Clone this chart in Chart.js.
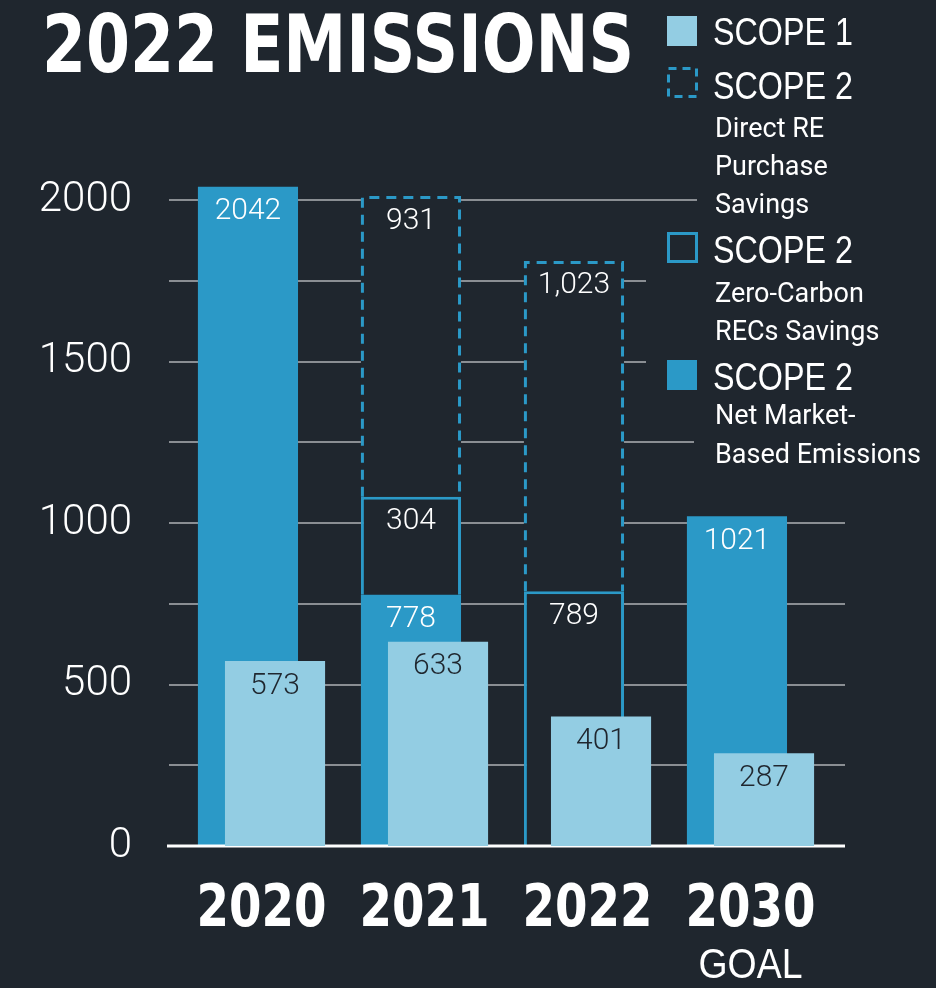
<!DOCTYPE html>
<html>
<head>
<meta charset="utf-8">
<title>2022 Emissions</title>
<script src="https://cdn.jsdelivr.net/npm/chart.js@4.4.1/dist/chart.umd.min.js"></script>
<style>
  html, body { margin: 0; padding: 0; background: #1f262e; }
  canvas { display: block; }
</style>
</head>
<body>
<canvas id="emissionsChart" width="936" height="988"></canvas>
<script>
// chart data
const years = ["2020", "2021", "2022", "2030"];
const yearNotes = ["", "", "", "GOAL"];
const scope1 = [573, 633, 401, 287];
const scope2Net = [2042, 778, null, 1021];
const scope2Recs = [null, 304, 789, null];
const scope2Direct = [null, 931, 1023, null];
const yTickLabels = [0, 500, 1000, 1500, 2000];
const legendHeads = ["SCOPE 1", "SCOPE 2", "SCOPE 2", "SCOPE 2"];
const legendNotes = [[], ["Direct RE", "Purchase", "Savings"], ["Zero-Carbon", "RECs Savings"], ["Net Market-", "Based Emissions"]];

const BG = "#1f262e";
const DARK = "#2b99c7";
const LIGHT = "#93cde3";
const GRID = "#8a8e93";
const HEAVY = '"DejaVu Sans", "Liberation Sans", sans-serif';
const PLAIN = '"Liberation Sans", Arial, sans-serif';
const THIN = 'Roboto, "Liberation Sans", sans-serif';

// draws text squeezed horizontally, the original uses a condensed face
function squeezed(ctx, text, x, y, sx) {
  ctx.save();
  ctx.translate(x, y);
  ctx.scale(sx, 1);
  ctx.fillText(text, 0, 0);
  ctx.restore();
}

const S1 = 3; // index of the scope 1 dataset, drawn on top

const extras = {
  id: "extras",
  beforeDatasetsDraw(chart) {
    const ctx = chart.ctx, y = chart.scales.y;
    ctx.save();
    ctx.strokeStyle = GRID;
    ctx.lineWidth = 2;
    y.ticks.forEach(t => {
      if (t.value === 0) return;
      const py = Math.round(y.getPixelForValue(t.value));
      ctx.beginPath();
      ctx.moveTo(169, py);
      ctx.lineTo(845, py);
      ctx.stroke();
    });
    ctx.restore();
  },
  beforeDatasetDraw(chart, args) {
    if (args.index === S1 && !chart.$late) return false;
  },
  afterDatasetsDraw(chart) {
    const ctx = chart.ctx;
    // dashed outline boxes for direct RE savings
    const meta = chart.getDatasetMeta(2);
    ctx.save();
    ctx.strokeStyle = DARK;
    ctx.lineWidth = 3;
    ctx.setLineDash([10, 7]);
    meta.data.forEach((el, i) => {
      if (scope2Direct[i] == null) return;
      const p = el.getProps(["x", "y", "base", "width"], true);
      const l = p.x - p.width / 2 + 1.5, r = p.x + p.width / 2 - 1.5, t = p.y + 1.5;
      ctx.beginPath();
      ctx.moveTo(l, p.base);
      ctx.lineTo(l, t);
      ctx.lineTo(r, t);
      ctx.lineTo(r, p.base);
      ctx.stroke();
    });
    ctx.restore();

    // zero line
    const y0 = Math.round(chart.scales.y.getPixelForValue(0));
    ctx.save();
    ctx.strokeStyle = "#ffffff";
    ctx.lineWidth = 3;
    ctx.beginPath();
    ctx.moveTo(167, y0);
    ctx.lineTo(845, y0);
    ctx.stroke();
    ctx.restore();

    chart.$late = true;
    chart.getDatasetMeta(S1).controller.draw();
    chart.$late = false;
  },
  afterDraw(chart) {
    const ctx = chart.ctx;
    ctx.save();

    // value labels
    ctx.font = "300 30px " + THIN;
    ctx.textAlign = "center";
    ctx.textBaseline = "middle";
    chart.data.datasets.forEach((ds, di) => {
      chart.getDatasetMeta(di).data.forEach((el, i) => {
        const v = ds.data[i];
        if (v == null) return;
        ctx.fillStyle = di === S1 ? BG : "#ffffff";
        const txt = di === 2 ? v.toLocaleString("en-US") : String(v);
        ctx.fillText(txt, el.x, el.y + 25);
      });
    });

    // category labels
    const x = chart.scales.x;
    ctx.textBaseline = "alphabetic";
    ctx.fillStyle = "#ffffff";
    years.forEach((yr, i) => {
      const cx = x.getPixelForValue(i);
      ctx.font = "bold 59px " + HEAVY;
      ctx.fillText(yr, cx, 926, 130);
      if (yearNotes[i]) {
        ctx.font = "42px " + PLAIN;
        ctx.fillText(yearNotes[i], cx, 978, 104);
      }
    });

    // title
    ctx.textAlign = "left";
    ctx.font = "bold 80px " + HEAVY;
    ctx.fillText("2022 EMISSIONS", 42, 72, 592);

    // legend, with a backing so gridlines stop short of the text
    ctx.fillStyle = BG;
    ctx.fillRect(697, 100, 239, 125);
    ctx.fillRect(646, 225, 290, 175);
    ctx.fillRect(694, 400, 242, 75);

    const heads = [45, 99, 263, 390];
    const notes = [[], [137, 175, 213], [302, 340], [424, 463]];
    const iconTop = [16, 67, 232, 360];
    heads.forEach((by, k) => {
      const top = iconTop[k];
      if (k === 0 || k === 3) {
        ctx.fillStyle = k === 0 ? LIGHT : DARK;
        ctx.fillRect(667, top, 30, 30);
      } else {
        ctx.strokeStyle = DARK;
        ctx.lineWidth = 3;
        ctx.setLineDash(k === 1 ? [8, 6] : []);
        ctx.strokeRect(668.5, top + 1.5, 28, 28);
        ctx.setLineDash([]);
      }
      ctx.fillStyle = "#ffffff";
      ctx.font = "38px " + PLAIN;
      squeezed(ctx, legendHeads[k], 713, by, 0.85);
      ctx.font = "27px " + THIN;
      legendNotes[k].forEach((line, j) => ctx.fillText(line, 715, notes[k][j]));
    });
    ctx.restore();
  }
};

const ctx = document.getElementById("emissionsChart").getContext("2d");
new Chart(ctx, {
  type: "bar",
  data: {
    labels: years,
    datasets: [
      { label: "SCOPE 2 Net Market-Based Emissions", data: scope2Net, stack: "s2",
        backgroundColor: DARK, borderWidth: 0 },
      { label: "SCOPE 2 Zero-Carbon RECs Savings", data: scope2Recs, stack: "s2",
        backgroundColor: BG, borderColor: DARK, borderWidth: 3, borderSkipped: "start" },
      { label: "SCOPE 2 Direct RE Purchase Savings", data: scope2Direct, stack: "s2",
        backgroundColor: BG, borderWidth: 0 },
      { label: "SCOPE 1", data: scope1, stack: "s1",
        backgroundColor: LIGHT, borderWidth: 0 }
    ]
  },
  options: {
    responsive: false,
    animation: false,
    devicePixelRatio: 1,
    layout: { padding: { left: 0, right: 104, top: 168, bottom: 142 } },
    datasets: { bar: { categoryPercentage: 0.332, barPercentage: 3.7 } },
    plugins: { legend: { display: false }, tooltip: { enabled: false } },
    scales: {
      x: { display: false, stacked: true },
      y: {
        stacked: true,
        min: 0,
        max: 2100,
        grid: { display: false },
        border: { display: false },
        afterFit(scale) { scale.width = 180; },
        afterBuildTicks(scale) { scale.ticks = scale.ticks.filter(t => t.value <= 2000); },
        ticks: {
          stepSize: 250,
          includeBounds: false,
          padding: 40,
          color: "#ffffff",
          font: { family: THIN, size: 42, weight: 300 },
          callback: v => yTickLabels.includes(v) ? String(v) : ""
        }
      }
    }
  },
  plugins: [extras]
});
</script>
</body>
</html>
